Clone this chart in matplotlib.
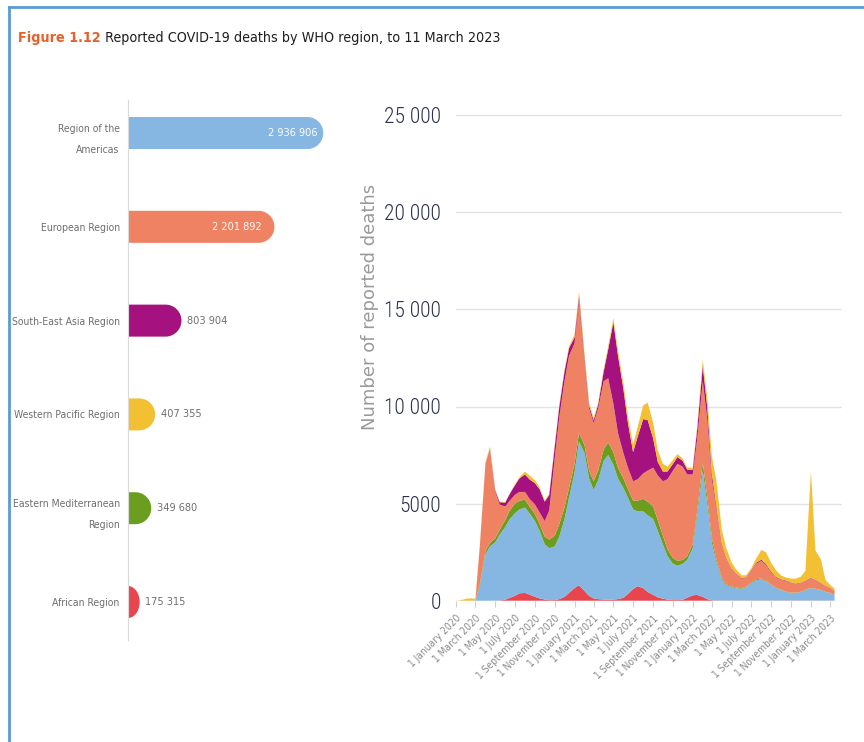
import numpy as np
import pandas as pd
import matplotlib
matplotlib.use('Agg')
import matplotlib.pyplot as plt
from matplotlib import font_manager as fm
from matplotlib.patches import PathPatch
from matplotlib.path import Path
from matplotlib.lines import Line2D

plt.rcParams['font.family'] = ['Liberation Sans', 'DejaVu Sans']

# ---------------- data: totals by region ----------------
regions = ["Region of the\nAmericas", "European Region", "South-East Asia Region",
           "Western Pacific Region", "Eastern Mediterranean\nRegion", "African Region"]
totals = [2936906, 2201892, 803904, 407355, 349680, 175315]
total_labels = ["2 936 906", "2 201 892", "803 904", "407 355", "349 680", "175 315"]

c_amr = "#85B7E2"
c_eur = "#EF8262"
c_sear = "#A5117F"
c_wpr = "#F3BF33"
c_emr = "#6B9E1F"
c_afr = "#E8464E"
bar_colors = [c_amr, c_eur, c_sear, c_wpr, c_emr, c_afr]

# ---------------- data: daily deaths (semi-monthly readings) ----------------
dates = pd.date_range("2020-01-01", "2023-03-15", freq="SMS")

african = [0, 0, 0, 0, 0, 0, 0, 0, 5, 10, 50, 150, 250, 380, 400, 320, 200, 120, 60, 30, 30, 80, 200, 400,
           650, 800, 500, 250, 120, 80, 60, 50, 60, 80, 150, 350, 600, 750, 650, 450, 300, 180, 100, 60, 40, 30, 50, 150,
           280, 300, 200, 80, 20, 10, 10, 10, 10, 10, 10, 10, 10, 10, 10, 10, 10, 10, 10, 10, 10, 10, 10, 10,
           10, 10, 5, 5, 5, 5]
americas = [0, 0, 0, 0, 0, 800, 2400, 2800, 3000, 3390, 3750, 4050, 4250, 4320, 4400, 4180, 3900, 3480, 2840, 2670, 2770, 3220, 4000, 4900,
            5950, 7400, 7100, 6050, 5580, 6120, 7140, 7450, 6940, 6220, 5650, 4950, 4100, 3850, 3950, 3950, 3900, 3420, 2800, 2240, 1860, 1770, 1850, 1950,
            2420, 4100, 6500, 4920, 2980, 1990, 1090, 790, 690, 640, 590, 690, 890, 1040, 1090, 990, 790, 640, 540, 440, 390, 390, 440, 540,
            640, 590, 545, 445, 395, 295]
eastern_med = [0, 0, 0, 0, 10, 100, 150, 180, 200, 250, 350, 450, 500, 450, 400, 350, 350, 350, 400, 450, 550, 650, 600, 500,
               450, 450, 400, 400, 450, 500, 600, 650, 650, 550, 500, 450, 450, 550, 650, 700, 650, 550, 450, 350, 300, 250, 200, 200,
               200, 250, 400, 350, 250, 150, 80, 50, 40, 30, 30, 30, 40, 50, 50, 40, 30, 30, 20, 20, 20, 15, 15, 15,
               15, 15, 10, 10, 10, 10]
european = [0, 0, 0, 0, 20, 2000, 4500, 4800, 2400, 1300, 700, 500, 450, 450, 400, 400, 500, 600, 800, 1500, 4000, 5500, 6500, 6800,
            6200, 6800, 4300, 3200, 3000, 3200, 3500, 3300, 2500, 1800, 1300, 1100, 1000, 1100, 1300, 1600, 2000, 2300, 2800, 3600, 4500, 5000, 4800, 4200,
            3600, 3700, 4200, 4000, 3000, 2600, 1700, 1300, 900, 700, 500, 450, 600, 800, 900, 800, 600, 500, 500, 550, 500, 450, 450, 450,
            500, 450, 350, 300, 250, 200]
south_east_asia = [0, 0, 0, 0, 0, 10, 20, 50, 80, 120, 200, 350, 500, 700, 900, 1000, 1100, 1200, 1000, 800, 600, 550, 500, 400,
                   300, 250, 200, 150, 150, 200, 500, 1500, 4200, 4000, 3300, 2300, 1500, 2200, 2800, 2600, 1500, 700, 500, 400, 350, 350, 300, 250,
                   250, 500, 800, 600, 300, 150, 60, 40, 30, 30, 30, 30, 40, 50, 60, 60, 50, 40, 30, 30, 20, 20, 20, 20,
                   20, 15, 15, 10, 10, 10]
western_pacific = [0, 20, 100, 120, 80, 40, 60, 100, 60, 40, 30, 30, 40, 60, 150, 200, 150, 100, 60, 60, 70, 80, 80, 100,
                   150, 200, 200, 150, 100, 100, 100, 150, 200, 250, 300, 350, 400, 500, 700, 900, 800, 600, 400, 250, 200, 150, 120, 100,
                   100, 150, 300, 500, 900, 1300, 700, 500, 300, 200, 150, 100, 100, 200, 500, 600, 450, 350, 200, 150, 200, 250, 300, 500,
                   5500, 1500, 1200, 300, 150, 100]

tick_dates = pd.date_range("2020-01-01", "2023-03-01", freq="2MS")
tick_labels = [f"1 {d.strftime('%B')} {d.year}" for d in tick_dates]
y_ticks = [0, 5000, 10000, 15000, 20000, 25000]
y_tick_labels = ["0", "5000", "10 000", "15 000", "20 000", "25 000"]


# ---------------- fonts: look for an installed narrow face ----------------
def _w(f):
    w = f.weight
    if isinstance(w, str):
        w = fm.weight_dict.get(w, 400)
    return int(w)


def find_narrow(target_weight):
    best, best_score = None, None
    pref = ["Liberation Sans Narrow", "DejaVu Sans", "Roboto Condensed", "Open Sans Condensed",
            "Noto Sans", "Lato", "Inter"]
    for f in fm.fontManager.ttflist:
        narrow = ("Narrow" in f.name) or ("Condensed" in f.name) or \
                 (str(f.stretch) in ("condensed", "semi-condensed", "extra-condensed", "ultra-condensed"))
        if not narrow or f.style != "normal" or "Mono" in f.name or "CJK" in f.name:
            continue
        rank = pref.index(f.name) if f.name in pref else len(pref)
        score = (abs(_w(f) - target_weight), rank)
        if best_score is None or score < best_score:
            best, best_score = f, score
    return best


nf_reg = find_narrow(400)
nf_bold = find_narrow(700)
nf_light = find_narrow(300)
NARROW = nf_reg is not None


def fp(size, weight="normal"):
    if NARROW:
        f = {"normal": nf_reg, "bold": nf_bold, "light": nf_light}[weight]
        return fm.FontProperties(fname=f.fname, size=size)
    return fm.FontProperties(family=["Roboto", "DejaVu Sans"], size=size * 0.86,
                             weight=weight)


# ---------------- figure ----------------
W, H = 864, 742
fig = plt.figure(figsize=(W / 100, H / 100), dpi=100)


def rect(l, t, r, b):
    return [l / W, 1 - b / H, (r - l) / W, (b - t) / H]


# frame
fig.add_artist(Line2D([9 / W, 9 / W], [0, 1 - 7 / H], transform=fig.transFigure, color="#5B9BD5", lw=2))
fig.add_artist(Line2D([9 / W, 1], [1 - 7 / H, 1 - 7 / H], transform=fig.transFigure, color="#5B9BD5", lw=2))

# title (two parts)
t1 = fig.text(18 / W, 1 - 38 / H, "Figure 1.12", color="#E6602A", fontproperties=fp(10.3, "bold"), va="center")
fig.canvas.draw()
bb = t1.get_window_extent(renderer=fig.canvas.get_renderer())
fig.text(bb.x1 / W, 1 - 38 / H, " Reported COVID-19 deaths by WHO region, to 11 March 2023",
         color="#1E1E1E", fontproperties=fp(10.3), va="center")

# ---------------- left: rounded bar chart ----------------
axl = fig.add_axes(rect(128, 100, 340, 640))
px_per_death = 66.5 / 1e6
axl.set_xlim(0, 212 / px_per_death)
axl.set_ylim(5.405, -0.352)
ypos = np.arange(len(totals))
half_h = 0.1706
rx_full = 16 / px_per_death
for y, v, col in zip(ypos, totals, bar_colors):
    r = min(rx_full, v)
    th = np.linspace(-np.pi / 2, np.pi / 2, 60)
    arc = np.column_stack([v - r + r * np.cos(th), y + half_h * np.sin(th)])
    verts = np.vstack([[0, y - half_h], arc, [0, y + half_h], [0, y - half_h]])
    codes = [Path.MOVETO] + [Path.LINETO] * (len(verts) - 2) + [Path.CLOSEPOLY]
    axl.add_patch(PathPatch(Path(verts, codes), facecolor=col, edgecolor="none"))

for y, v, lab in zip(ypos, totals, total_labels):
    if v > 1.5e6:
        axl.annotate(lab, xy=(v, y), xytext=(-4.5 if v > 2.5e6 else -9, 0), textcoords="offset points",
                     ha="right", va="center", color="white", fontproperties=fp(7.8))
    else:
        axl.annotate(lab, xy=(v, y), xytext=(4, 0), textcoords="offset points",
                     ha="left", va="center", color="#6E6E6E", fontproperties=fp(7.8))

axl.set_yticks(ypos)
axl.set_yticklabels(regions, color="#6E6E6E", linespacing=2.4)
for t in axl.get_yticklabels():
    t.set_fontproperties(fp(7.5))
axl.tick_params(axis="y", length=0, pad=6)
axl.set_xticks([])
for s in ["top", "right", "bottom"]:
    axl.spines[s].set_visible(False)
axl.spines["left"].set_color("#DADADA")
axl.spines["left"].set_linewidth(0.8)
axl.patch.set_alpha(0)

# ---------------- right: stacked area ----------------
px_per_unit = 97.1 / 5000
ymax = 26000
top_px = 600.7 - ymax * px_per_unit
axr = fig.add_axes(rect(456, top_px, 842, 600.7))
axr.stackplot(dates, african, americas, eastern_med, european, south_east_asia, western_pacific,
              colors=[c_afr, c_amr, c_emr, c_eur, c_sear, c_wpr], linewidth=0)
x0 = pd.Timestamp("2020-01-01")
axr.set_xlim(x0, x0 + pd.Timedelta(days=1192))
axr.set_ylim(0, ymax)
axr.set_yticks(y_ticks)
axr.set_yticklabels(y_tick_labels, color="#2A3050")
for t in axr.get_yticklabels():
    t.set_fontproperties(fp(15.5, "light"))
axr.tick_params(axis="y", length=0, pad=11)
axr.yaxis.grid(True, color="#E2E2E2", linewidth=1)
axr.set_axisbelow(True)
axr.set_xticks(tick_dates)
axr.set_xticklabels(tick_labels, rotation=45, ha="right", rotation_mode="anchor", color="#8A8A8A")
for t in axr.get_xticklabels():
    t.set_fontproperties(fp(7.3))
axr.tick_params(axis="x", length=4, color="#D0D0D0", pad=5)
for s in ["top", "right", "left", "bottom"]:
    axr.spines[s].set_visible(False)
axr.patch.set_alpha(0)

fig.text(370 / W, 1 - 307 / H, "Number of reported deaths", rotation=90, ha="center", va="center",
         fontsize=13, color="#9A9A9A", family="DejaVu Sans")

fig.savefig("out.png", dpi=100)
